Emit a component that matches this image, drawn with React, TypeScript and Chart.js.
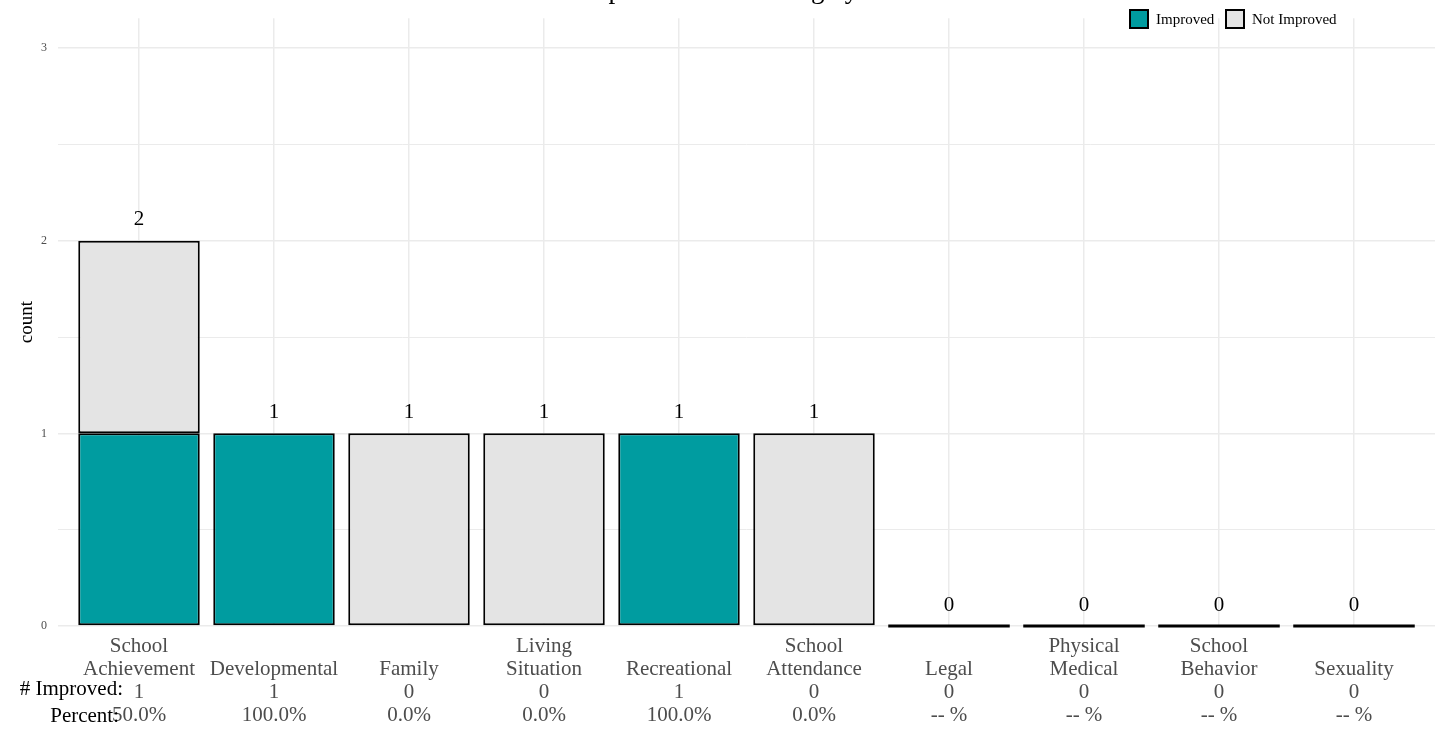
import React, { useEffect, useRef } from "react";
import { Chart, registerables } from "chart.js";

Chart.register(...registerables);

const TITLE = "Impact on Functioning by Area";
const categoryLines: string[][] = [
  ["School", "Achievement"],
  ["", "Developmental"],
  ["", "Family"],
  ["Living", "Situation"],
  ["", "Recreational"],
  ["School", "Attendance"],
  ["", "Legal"],
  ["Physical", "Medical"],
  ["School", "Behavior"],
  ["", "Sexuality"],
];
const improved = [1, 1, 0, 0, 1, 0, 0, 0, 0, 0];
const notImproved = [1, 0, 1, 1, 0, 1, 0, 0, 0, 0];
const percentLabels = ["50.0%", "100.0%", "0.0%", "0.0%", "100.0%", "0.0%", "-- %", "-- %", "-- %", "-- %"];
const seriesNames = ["Improved", "Not Improved"];
const yTickValues = [0, 1, 2, 3];

const TEAL = "#009CA0";
const GREY = "#E4E4E4";
const FONT = "'Liberation Serif', serif";

export default function App() {
  const ref = useRef<HTMLCanvasElement | null>(null);

  useEffect(() => {
    document.body.style.margin = "0";
    const canvas = ref.current;
    if (!canvas) return;

    const totals = improved.map((v, i) => v + notImproved[i]);

    const overlay = {
      id: "overlay",
      afterDatasetsDraw(chart: any) {
        const ctx = chart.ctx;
        const xs = chart.scales.x;
        const ys = chart.scales.y;
        const step = xs.getPixelForValue(1) - xs.getPixelForValue(0);
        const bw = step * 0.9;
        ctx.save();
        totals.forEach((t, i) => {
          if (t === 0) {
            const cx = xs.getPixelForValue(i);
            const y0 = ys.getPixelForValue(0);
            ctx.strokeStyle = "#000";
            ctx.lineWidth = 3;
            ctx.beginPath();
            ctx.moveTo(cx - bw / 2, y0);
            ctx.lineTo(cx + bw / 2, y0);
            ctx.stroke();
          }
        });
        ctx.fillStyle = "#000";
        ctx.font = `21px ${FONT}`;
        ctx.textAlign = "center";
        ctx.textBaseline = "middle";
        totals.forEach((t, i) => {
          const cx = xs.getPixelForValue(i);
          const y = ys.getPixelForValue(t) - 21;
          ctx.fillText(String(t), cx, y);
        });
        ctx.restore();
      },
      afterDraw(chart: any) {
        const ctx = chart.ctx;
        ctx.save();
        ctx.fillStyle = "#000";
        ctx.font = `27px ${FONT}`;
        ctx.textAlign = "center";
        ctx.textBaseline = "alphabetic";
        ctx.fillText(TITLE, 748, -2);
        const ds = chart.data.datasets;
        const boxes = [1130, 1226];
        ctx.font = `15px ${FONT}`;
        ctx.textAlign = "left";
        ctx.textBaseline = "middle";
        ds.forEach((d: any, i: number) => {
          const bx = boxes[i];
          ctx.fillStyle = d.backgroundColor;
          ctx.fillRect(bx, 10, 18, 18);
          ctx.strokeStyle = "#000";
          ctx.lineWidth = 2;
          ctx.strokeRect(bx, 10, 18, 18);
          ctx.fillStyle = "#000";
          ctx.fillText(d.label, bx + 26, 20);
        });
        ctx.font = `21px ${FONT}`;
        ctx.textAlign = "right";
        ctx.fillStyle = "#000";
        ctx.fillText("# Improved:", 123, 689);
        ctx.fillText("Percent:", 119, 716);
        ctx.restore();
      },
    };

    const chart = new Chart(canvas, {
      type: "bar",
      data: {
        datasets: [
          {
            label: seriesNames[0],
            data: improved.map((v, i) => ({ x: i, y: v })),
            backgroundColor: TEAL,
            borderColor: "#000",
            borderWidth: 2,
            borderSkipped: false,
            barPercentage: 0.9,
            categoryPercentage: 1,
          },
          {
            label: seriesNames[1],
            data: notImproved.map((v, i) => ({ x: i, y: v })),
            backgroundColor: GREY,
            borderColor: "#000",
            borderWidth: 2,
            borderSkipped: false,
            barPercentage: 0.9,
            categoryPercentage: 1,
          },
        ],
      },
      options: {
        animation: false,
        responsive: false,
        devicePixelRatio: 1,
        layout: { padding: { left: 0, right: 7, top: 18, bottom: 0 } },
        plugins: {
          legend: { display: false },
          title: { display: false },
          tooltip: { enabled: false },
        },
        scales: {
          x: {
            type: "linear",
            stacked: true,
            min: -0.6,
            max: 9.6,
            bounds: "data",
            offset: false,
            border: { display: false },
            grid: { color: "#EBEBEB", lineWidth: 1.5, drawTicks: false, offset: false },
            afterBuildTicks(scale: any) {
              scale.ticks = categoryLines.map((_, i) => ({ value: i }));
            },
            afterFit(scale: any) {
              scale.height = 733 - 626;
            },
            ticks: {
              autoSkip: false,
              maxRotation: 0,
              minRotation: 0,
              padding: 9,
              color: "#4D4D4D",
              font: { family: FONT, size: 21, lineHeight: 1.1 },
              callback: (v: any) => {
                const i = Math.round(Number(v));
                if (i < 0 || i >= categoryLines.length) return "";
                return [...categoryLines[i], String(improved[i]), percentLabels[i]];
              },
            },
          },
          y: {
            stacked: true,
            min: 0,
            max: 3.155,
            bounds: "data",
            border: { display: false },
            grid: {
              color: "#EBEBEB",
              drawTicks: false,
              lineWidth: (c: any) => (yTickValues.includes(c.tick?.value) ? 1.5 : 1),
            },
            afterBuildTicks(scale: any) {
              const t: any[] = [];
              for (let v = 0; v <= 3; v += 0.5) t.push({ value: v });
              scale.ticks = t;
            },
            afterFit(scale: any) {
              scale.width = 58;
            },
            ticks: {
              padding: 11,
              color: "#4D4D4D",
              font: { family: FONT, size: 12 },
              callback: (v: any) => (yTickValues.includes(Number(v)) ? String(v) : ""),
            },
            title: {
              display: true,
              text: "count",
              color: "#000",
              font: { family: FONT, size: 19 },
              padding: { top: 16, bottom: 0 },
            },
          },
        },
      },
      plugins: [overlay],
    } as any);

    return () => chart.destroy();
  }, []);

  return (
    <div style={{ width: 1442, height: 733 }}>
      <canvas ref={ref} width={1442} height={733} style={{ display: "block" }} />
    </div>
  );
}
